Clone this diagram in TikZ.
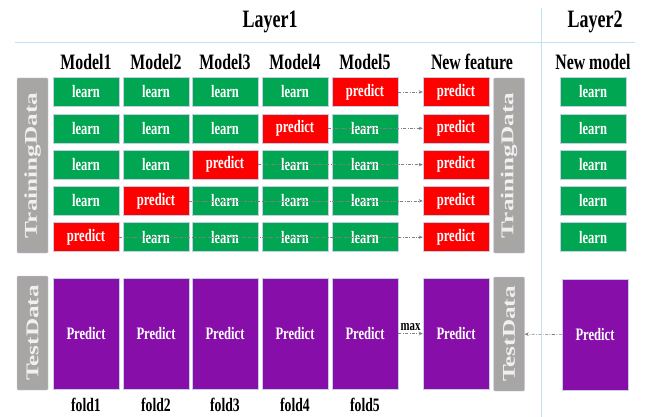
\documentclass[tikz,border=0pt]{standalone}
\usepackage{fontspec}
\setmainfont[FakeStretch=0.72]{Liberation Serif}
\newfontfamily\sidefont[FakeStretch=1.4]{Liberation Serif}
\usetikzlibrary{arrows.meta}
\definecolor{learngreen}{RGB}{0,166,81}
\definecolor{predictred}{RGB}{255,0,0}
\definecolor{testpurple}{RGB}{136,14,170}
\definecolor{labelgray}{RGB}{168,165,165}
\definecolor{rimblue}{RGB}{196,206,228}
\definecolor{ruleblue}{RGB}{190,225,245}

\tikzset{
    cell/.style = {minimum width=66pt, minimum height=29pt, inner sep=0pt, text=white,
        draw=rimblue, line width=0.5pt, font=\bfseries\fontsize{17.5}{17.5}\selectfont},
    learn/.style = {cell, fill=learngreen},
    predict/.style = {cell, fill=predictred},
    testbox/.style = {cell, fill=testpurple, minimum height=111pt},
    side/.style = {fill=labelgray, draw=rimblue, rounded corners=1pt, text=white!94!black,
        inner sep=0pt, minimum height=31pt, rotate=90,
        font=\sidefont\bfseries\fontsize{18}{18}\selectfont},
    title/.style = {font=\bfseries\fontsize{25}{25}\selectfont},
    head/.style = {font=\bfseries\fontsize{22}{22}\selectfont},
    foldname/.style = {font=\bfseries\fontsize{19}{19}\selectfont},
    flow/.style = {gray, line width=0.6pt, dash pattern=on 3pt off 1.5pt on 0.8pt off 1.5pt,
        -{Stealth[length=4pt,width=3.5pt]}},
    rule/.style = {ruleblue, line width=1pt}
}

\begin{document}
\begin{tikzpicture}[x=1pt, y=-1pt]
        \useasboundingbox (0,0) rectangle (648,417);

        % separators
        \draw[rule] (15,43) -- (635,43);
        \draw[rule] (541,8) -- (541,417);

        % Layer1
        \begin{scope}
            \node[title] (layer1) at (270,22) {Layer1};
            \foreach \c/\x in {1/86,2/156,3/225,4/295,5/365}
                \node[head] (h\c) at (\x,62) {Model\c};
            \node[head] (hnf) at (472,62) {New feature};

            \node[side, minimum width=175pt] (trainL) at (32.5,165.5) {TrainingData};
            \node[side, minimum width=175pt] (trainR) at (509,165.5) {TrainingData};

            % one fold held out per row
            \foreach \r/\p in {1/5,2/4,3/3,4/2,5/1} {
                \pgfmathsetmacro{\y}{92+36.3*(\r-1)}
                \foreach \c/\x in {1/86,2/156,3/225,4/295,5/365} {
                    \ifnum\c=\p \def\kind{predict}\else \def\kind{learn}\fi
                    \node[\kind] (m\c r\r) at (\x,\y) {\kind};
                }
                \node[predict] (nf\r) at (456,\y) {predict};
                \draw[flow] (m\p r\r.east) -- (nf\r.west);
            }

            % test data
            \node[side, minimum width=114pt] (testL) at (32.5,333) {TestData};
            \node[side, minimum width=114pt] (testR) at (509,334) {TestData};
            \foreach \c/\x in {1/86,2/156,3/225,4/295,5/365} {
                \node[testbox] (t\c) at (\x,333.5) {Predict};
                \node[foldname] (f\c) at (\x,405) {fold\c};
            }
            \node[testbox] (nft) at (456,333.5) {Predict};
            \draw[flow] (t5) -- node[above=-1pt, text=black, font=\bfseries\fontsize{15}{15}\selectfont] {max} (nft);
        \end{scope}

        % Layer2
        \begin{scope}
            \node[title] (layer2) at (595,22) {Layer2};
            \node[head] (hnm) at (593,62) {New model};
            \foreach \r in {1,...,5} {
                \pgfmathsetmacro{\y}{92+36.3*(\r-1)}
                \node[learn] (n\r) at (593,\y) {learn};
            }
            \node[testbox] (nt) at (595,335) {Predict};
            \draw[flow] (nt) -- (testR);
        \end{scope}
    \end{tikzpicture}
\end{document}
